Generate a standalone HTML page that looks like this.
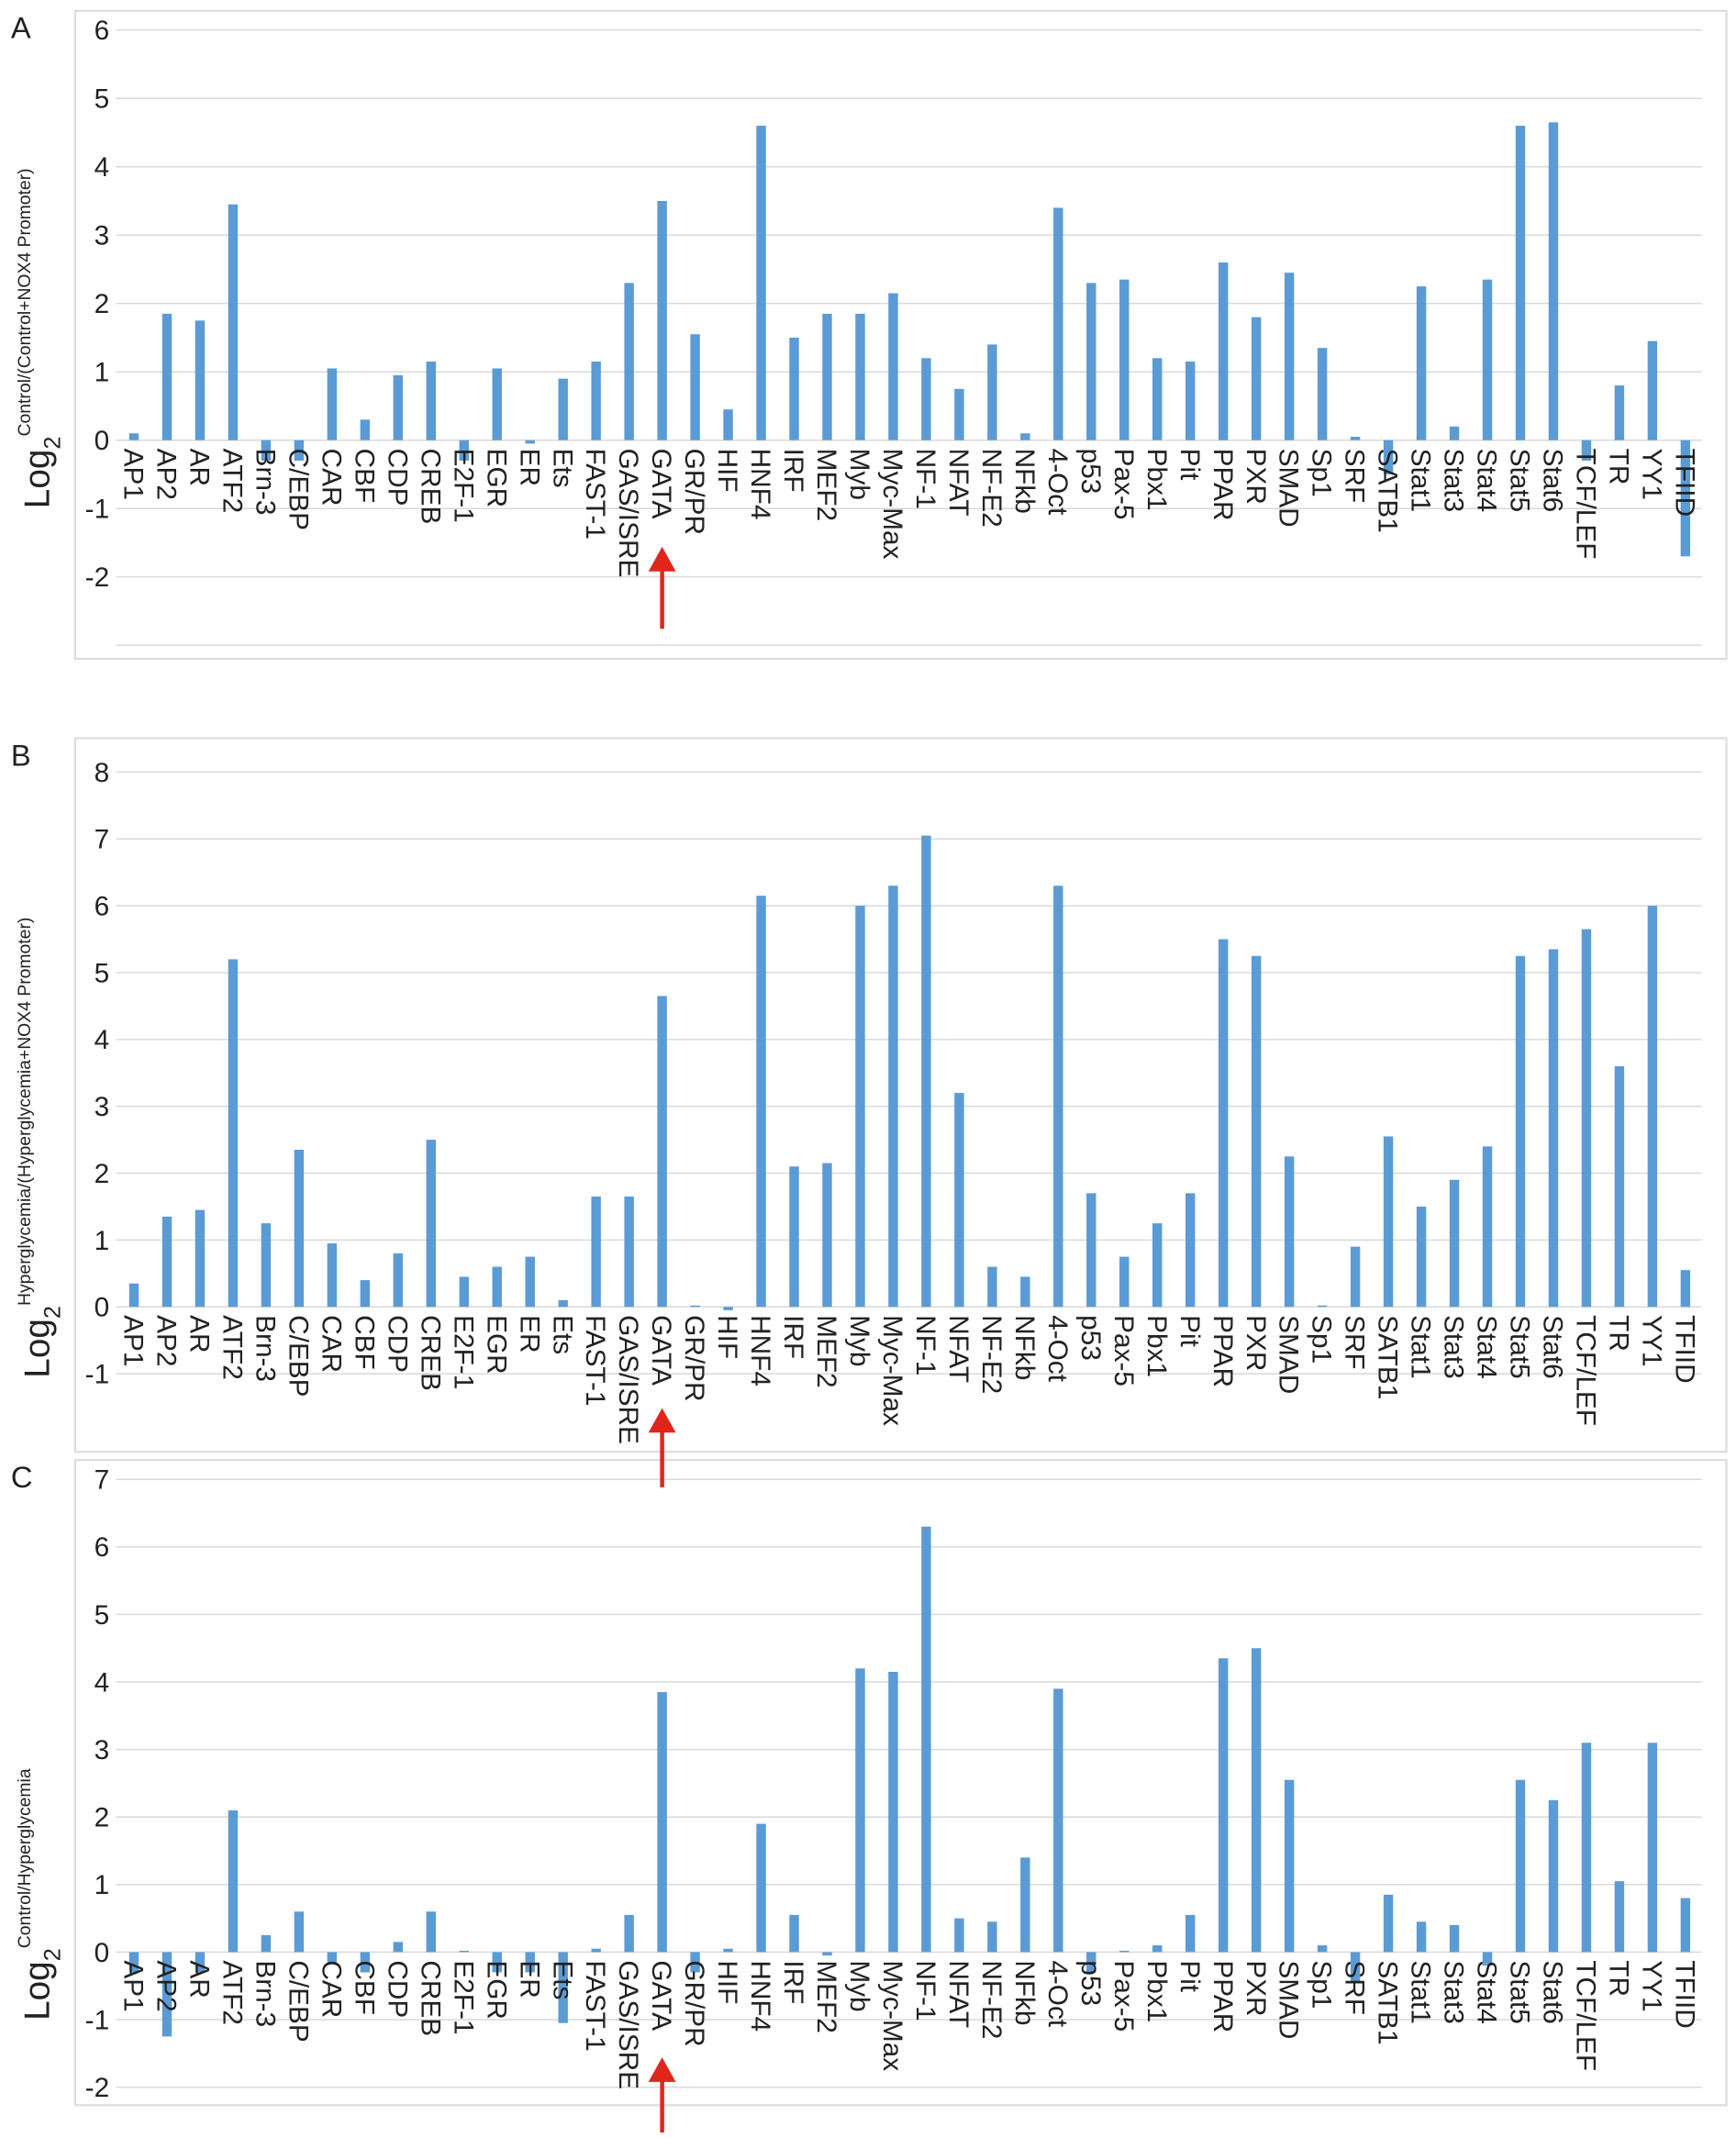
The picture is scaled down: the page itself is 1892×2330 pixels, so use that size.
<!DOCTYPE html>
<html><head><meta charset="utf-8"><style>
html,body{margin:0;padding:0;background:#fff;}
svg{display:block;font-family:"Liberation Sans",Arial,sans-serif;}
</style></head><body>
<svg id="fig" width="1892" height="2330" viewBox="0 0 1270 1564" preserveAspectRatio="none" xmlns="http://www.w3.org/2000/svg"></svg>
<script>
const categories=["AP1","AP2","AR","ATF2","Brn-3","C/EBP","CAR","CBF","CDP","CREB","E2F-1","EGR","ER","Ets","FAST-1","GAS/ISRE","GATA","GR/PR","HIF","HNF4","IRF","MEF2","Myb","Myc-Max","NF-1","NFAT","NF-E2","NFkb","4-Oct","p53","Pax-5","Pbx1","Pit","PPAR","PXR","SMAD","Sp1","SRF","SATB1","Stat1","Stat3","Stat4","Stat5","Stat6","TCF/LEF","TR","YY1","TFIID"];
const valuesA=[0.1,1.85,1.75,3.45,-0.3,-0.3,1.05,0.3,0.95,1.15,-0.3,1.05,-0.05,0.9,1.15,2.3,3.5,1.55,0.45,4.6,1.5,1.85,1.85,2.15,1.2,0.75,1.4,0.1,3.4,2.3,2.35,1.2,1.15,2.6,1.8,2.45,1.35,0.05,-0.5,2.25,0.2,2.35,4.6,4.65,-0.3,0.8,1.45,-1.7];
const valuesB=[0.35,1.35,1.45,5.2,1.25,2.35,0.95,0.4,0.8,2.5,0.45,0.6,0.75,0.1,1.65,1.65,4.65,0.02,-0.05,6.15,2.1,2.15,6.0,6.3,7.05,3.2,0.6,0.45,6.3,1.7,0.75,1.25,1.7,5.5,5.25,2.25,0.02,0.9,2.55,1.5,1.9,2.4,5.25,5.35,5.65,3.6,6.0,0.55];
const valuesC=[-0.3,-1.25,-0.3,2.1,0.25,0.6,-0.15,-0.3,0.15,0.6,0.02,-0.3,-0.3,-1.05,0.05,0.55,3.85,-0.3,0.05,1.9,0.55,-0.05,4.2,4.15,6.3,0.5,0.45,1.4,3.9,-0.3,0.02,0.1,0.55,4.35,4.5,2.55,0.1,-0.45,0.85,0.45,0.4,-0.2,2.55,2.25,3.1,1.05,3.1,0.8];
const ticksA=[-2,-1,0,1,2,3,4,5,6];
const ticksB=[-1,0,1,2,3,4,5,6,7,8];
const ticksC=[-2,-1,0,1,2,3,4,5,6,7];
const NS="http://www.w3.org/2000/svg";
const svg=document.getElementById('fig');
function mk(tag,attrs,parent){const e=document.createElementNS(NS,tag);for(const k in attrs)e.setAttribute(k,attrs[k]);(parent||svg).appendChild(e);return e;}
const xS=i=>98+i*(1233-98)/(categories.length-1);
const arrows=[];
function panel(cfg){
  const g=mk('g',{});
  
  
  const box=mk('rect',{x:55,y:cfg.boxTop,width:1208,height:cfg.boxBottom-cfg.boxTop,fill:'none',stroke:'#ddd','stroke-width':1.5},g);
  
  
  const yS=v=>cfg.zeroY-v*cfg.unit;
  const lbl=mk('text',{x:8,y:cfg.boxTop+20,'font-size':22,fill:'#222'},g);lbl.textContent=cfg.id;
  
  
  cfg.ticks.forEach(t=>{
    const gl=mk('line',{x1:85,x2:1245,y1:yS(t),y2:yS(t),stroke:'#d9d9d9','stroke-width':1},g);
    
    
    const tl=mk('text',{x:80,y:yS(t)+7,'font-size':20,'text-anchor':'end',fill:'#222'},g);tl.textContent=t;
    
    
  });
  if(cfg.extraGrid!==undefined){const gl=mk('line',{x1:85,x2:1245,y1:yS(cfg.extraGrid),y2:yS(cfg.extraGrid),stroke:'#d9d9d9','stroke-width':1},g);
    
    }
  cfg.values.forEach((v,i)=>{
    const y0=yS(0),y1=yS(v);
    const b=mk('rect',{x:xS(i)-3.5,y:Math.min(y0,y1),width:7,height:Math.abs(y1-y0),fill:'#5b9bd5'},g);
    
    
    const t=mk('text',{x:0,y:0,'font-size':20,fill:'#222',transform:`translate(${xS(i)-7},${y0+6}) rotate(90)`},g);
    t.textContent=categories[i];
    
    
  });
  const yt=mk('text',{x:0,y:0,'font-size':26,fill:'#222',transform:`translate(36,${cfg.titleY}) rotate(-90)`},g);
  const s1=mk('tspan',{},yt);s1.textContent='Log';
  const s2=mk('tspan',{'font-size':17,dy:8},yt);s2.textContent='2';
  const s3=mk('tspan',{'font-size':13,dy:-22},yt);s3.textContent=cfg.title;
  
  
  arrows.push(cfg);
}
panel({id:'A',values:valuesA,ticks:ticksA,extraGrid:-3,boxTop:8,boxBottom:482,zeroY:322,unit:50,titleY:372,title:'Control/(Control+NOX4 Promoter)',arrowTop:400,arrowBottom:460});
panel({id:'B',values:valuesB,ticks:ticksB,boxTop:540,boxBottom:1062,zeroY:956,unit:48.9,titleY:1008,title:'Hyperglycemia/(Hyperglycemia+NOX4 Promoter)',arrowTop:1030,arrowBottom:1088});
panel({id:'C',values:valuesC,ticks:ticksC,boxTop:1068,boxBottom:1540,zeroY:1428,unit:49.4,titleY:1478,title:'Control/Hyperglycemia',arrowTop:1505,arrowBottom:1560});
arrows.forEach(cfg=>{
  const ax=xS(16);
  const ar=mk('g',{});
  
  
  mk('line',{x1:ax,x2:ax,y1:cfg.arrowBottom,y2:cfg.arrowTop+14,stroke:'#e0261a','stroke-width':3},ar);
  mk('polygon',{points:`${ax-10},${cfg.arrowTop+18} ${ax+10},${cfg.arrowTop+18} ${ax},${cfg.arrowTop}`,fill:'#e0261a'},ar);
});
</script>
</body></html>
